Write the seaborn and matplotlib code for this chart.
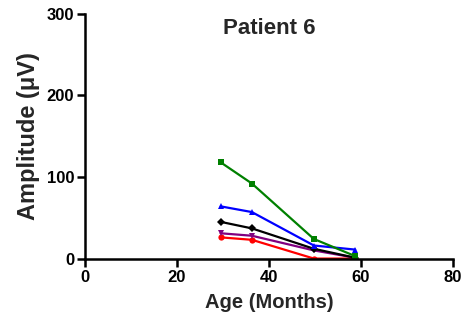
import matplotlib
matplotlib.use("Agg")
import matplotlib.pyplot as plt
import seaborn as sns
import pandas as pd

ages = [29.5, 36.3, 49.8, 58.8]
series_names = ["S1", "S2", "S3", "S4", "S5"]
green = [118, 92, 24, 3]
blue = [64, 57, 16, 11]
black = [45, 37, 12, 1]
purple = [31, 28, 10, 1]
red = [26, 23, 0, 0]
colors = ["#ff0000", "#800080", "#000000", "#0000ff", "#008000"]
markers = ["o", "v", "D", "^", "s"]

sns.set_style("white")
plt.rcParams['font.family'] = ['Liberation Sans', 'DejaVu Sans']
plt.rcParams['font.weight'] = 'bold'

rows = []
for name, vals in zip(series_names, [red, purple, black, blue, green]):
    for a, v in zip(ages, vals):
        rows.append({"Age": a, "Amp": v, "Series": name})
df = pd.DataFrame(rows)

fig = plt.figure(figsize=(4.68, 3.22), dpi=100)
ax = fig.add_axes([0.182, 0.197, 0.785, 0.76])
sns.lineplot(data=df, x="Age", y="Amp", hue="Series", style="Series",
             palette=colors, markers=markers, dashes=False, linewidth=1.6,
             markersize=4.5, markeredgewidth=0, legend=False, ax=ax)
ax.set_xlim(0, 80)
ax.set_ylim(0, 300)
ax.set_xticks([0, 20, 40, 60, 80])
ax.set_yticks([0, 100, 200, 300])
for s in ["top", "right"]:
    ax.spines[s].set_visible(False)
for s in ["left", "bottom"]:
    ax.spines[s].set_linewidth(1.8)
    ax.spines[s].set_color("black")
ax.tick_params(axis="both", direction="out", length=6, width=1.8, labelsize=12,
               colors="black", bottom=True, left=True, pad=2)
for lab in ax.get_xticklabels() + ax.get_yticklabels():
    lab.set_fontweight("bold")
ax.set_xlabel("Age (Months)", fontsize=14.5, fontweight="bold", labelpad=6)
ax.set_ylabel("Amplitude (\u03bcV)", fontsize=17, fontweight="bold", labelpad=5)
ax.text(0.5, 0.94, "Patient 6", transform=ax.transAxes, ha="center", va="center",
        fontsize=16, fontweight="bold")
fig.savefig("out.png", dpi=100)
